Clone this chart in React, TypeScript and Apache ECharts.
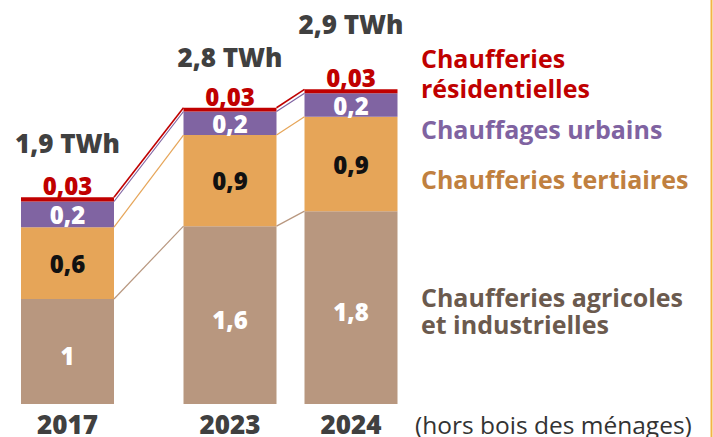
import React, { useEffect, useRef } from 'react';
import * as echarts from 'echarts';

// ---- data ----
const years = ['2017', '2023', '2024'];
const agricoles = [0.98, 1.66, 1.8];
const tertiaires = [0.67, 0.85, 0.88];
const urbains = [0.24, 0.22, 0.22];
const residentielles = [0.04, 0.035, 0.037];

const agricolesLabels = ['1', '1,6', '1,8'];
const tertiairesLabels = ['0,6', '0,9', '0,9'];
const urbainsLabels = ['0,2', '0,2', '0,2'];
const residentiellesLabels = ['0,03', '0,03', '0,03'];
const totalLabels = ['1,9 TWh', '2,8 TWh', '2,9 TWh'];

const seriesNames = [
  ['Chaufferies agricoles', 'et industrielles'],
  ['Chaufferies tertiaires'],
  ['Chauffages urbains'],
  ['Chaufferies', 'résidentielles'],
];
const noteText = '(hors bois des ménages)';

// ---- styles ----
const FONT = '"Open Sans", "Noto Sans", sans-serif';
const BROWN = '#B8977F';
const ORANGE = '#E6A558';
const PURPLE = '#8064A2';
const RED = '#C00000';
const GREY = '#404040';
const BAR_W = 93;
const HALF = BAR_W / 2;
const totalLift = [54, 50.5, 65];

const groups = [[0], [1, 2]];

function buildOption() {
  const segs = [
    { name: seriesNames[0].join(' '), values: agricoles, labels: agricolesLabels, color: BROWN, lc: '#ffffff', pos: 'inside', offset: [0, 4], dist: 0 },
    { name: seriesNames[1].join(' '), values: tertiaires, labels: tertiairesLabels, color: ORANGE, lc: '#111111', pos: 'inside', offset: [0, 0], dist: 0 },
    { name: seriesNames[2].join(' '), values: urbains, labels: urbainsLabels, color: PURPLE, lc: '#ffffff', pos: 'inside', offset: [0, 0], dist: 0 },
    { name: seriesNames[3].join(' '), values: residentielles, labels: residentiellesLabels, color: RED, lc: RED, pos: 'top', offset: [0, 0], dist: 1.5 },
  ];
  const series: any[] = [];
  groups.forEach((idx, g) => {
    segs.forEach((s) => {
      series.push({
        type: 'bar',
        name: s.name,
        xAxisIndex: g,
        yAxisIndex: g,
        stack: 'g' + g,
        barWidth: BAR_W,
        data: idx.map((i) => s.values[i]),
        itemStyle: { color: s.color },
        label: {
          show: true,
          position: s.pos,
          distance: s.dist,
          offset: s.offset,
          color: s.lc,
          fontFamily: FONT,
          fontWeight: 800,
          fontSize: 24,
          lineHeight: 20,
          formatter: (p: any) => s.labels[idx[p.dataIndex]],
        },
      });
    });
  });

  const xAxisBase = {
    type: 'category',
    axisLine: { show: false },
    axisTick: { show: false },
    axisLabel: {
      color: GREY,
      fontFamily: FONT,
      fontWeight: 800,
      fontSize: 26,
      margin: 20,
      verticalAlign: 'middle',
    },
  };
  const yAxisBase = { type: 'value', min: 0, max: 3.5, show: false, splitLine: { show: false } };

  return {
    animation: false,
    textStyle: { fontFamily: FONT },
    grid: [
      { left: 21, width: 93, top: 29, bottom: 30 },
      { left: 169.5, width: 242, top: 29, bottom: 30 },
    ],
    xAxis: [
      { ...xAxisBase, gridIndex: 0, data: groups[0].map((i) => years[i]) },
      { ...xAxisBase, gridIndex: 1, data: groups[1].map((i) => years[i]) },
    ],
    yAxis: [
      { ...yAxisBase, gridIndex: 0 },
      { ...yAxisBase, gridIndex: 1 },
    ],
    series,
  };
}

export default function App() {
  const ref = useRef<HTMLDivElement>(null);
  useEffect(() => {
    document.body.style.margin = '0';
    const el = ref.current;
    if (!el) return;
    const chart = echarts.init(el, null, { renderer: 'svg' });
    chart.setOption(buildOption() as any);

    const stacks = [agricoles, tertiaires, urbains, residentielles];
    const lineColors = [BROWN, ORANGE, PURPLE, RED];
    const cum = stacks.map((_, k) =>
      years.map((__, i) => stacks.slice(0, k + 1).reduce((s, a) => s + a[i], 0))
    );
    const gridOf = (i: number) => (groups[0].includes(i) ? 0 : 1);
    const px = (i: number, v: number) =>
      chart.convertToPixel({ gridIndex: gridOf(i) } as any, [years[i], v]) as number[];

    const graphics: any[] = [];
    cum.forEach((c, k) => {
      const a = px(0, c[0]);
      const b = px(1, c[1]);
      const d = px(2, c[2]);
      const style = { stroke: lineColors[k], lineWidth: k === 3 ? 1.6 : 1.2 };
      graphics.push({ type: 'line', silent: true, z: 5, shape: { x1: a[0] + HALF, y1: a[1], x2: b[0] - HALF, y2: b[1] }, style });
      graphics.push({ type: 'line', silent: true, z: 5, shape: { x1: b[0] + HALF, y1: b[1], x2: d[0] - HALF, y2: d[1] }, style });
    });

    // total labels above each stack
    years.forEach((_, i) => {
      const top = px(i, cum[3][i]);
      graphics.push({
        type: 'text',
        x: top[0],
        y: top[1] - totalLift[i],
        silent: true,
        z: 10,
        style: {
          text: totalLabels[i],
          fill: GREY,
          fontFamily: FONT,
          fontWeight: 800,
          fontSize: 26,
          verticalAlign: 'middle',
          align: 'center',
        },
      });
    });

    const legend = [
      { lines: seriesNames[3], y: 58, fill: RED, lh: 30 },
      { lines: seriesNames[2], y: 129, fill: '#7F63A1', lh: 30 },
      { lines: seriesNames[1], y: 179, fill: '#C0803F', lh: 30 },
      { lines: seriesNames[0], y: 297, fill: '#6B5A4E', lh: 27 },
    ];
    legend.forEach((l) => {
      l.lines.forEach((t, j) => {
        graphics.push({
          type: 'text',
          x: 421,
          y: l.y + j * l.lh,
          silent: true,
          style: {
            text: t,
            fill: l.fill,
            fontFamily: FONT,
            fontWeight: 'bold',
            fontSize: 25,
            verticalAlign: 'middle',
            align: 'left',
          },
        });
      });
    });
    graphics.push({
      type: 'text',
      x: 415,
      y: 424,
      silent: true,
      style: {
        text: noteText,
        fill: '#333333',
        fontFamily: FONT,
        fontWeight: 'normal',
        fontSize: 24.5,
        verticalAlign: 'middle',
        align: 'left',
      },
    });
    graphics.push({
      type: 'line',
      silent: true,
      shape: { x1: 711.5, y1: 0, x2: 711.5, y2: 437 },
      style: { stroke: '#F2B544', lineWidth: 2 },
    });

    chart.setOption({ graphic: graphics });
    return () => chart.dispose();
  }, []);

  return (
    <div
      ref={ref}
      style={{ position: 'absolute', left: 0, top: 0, width: 713, height: 437, background: '#ffffff' }}
    />
  );
}
